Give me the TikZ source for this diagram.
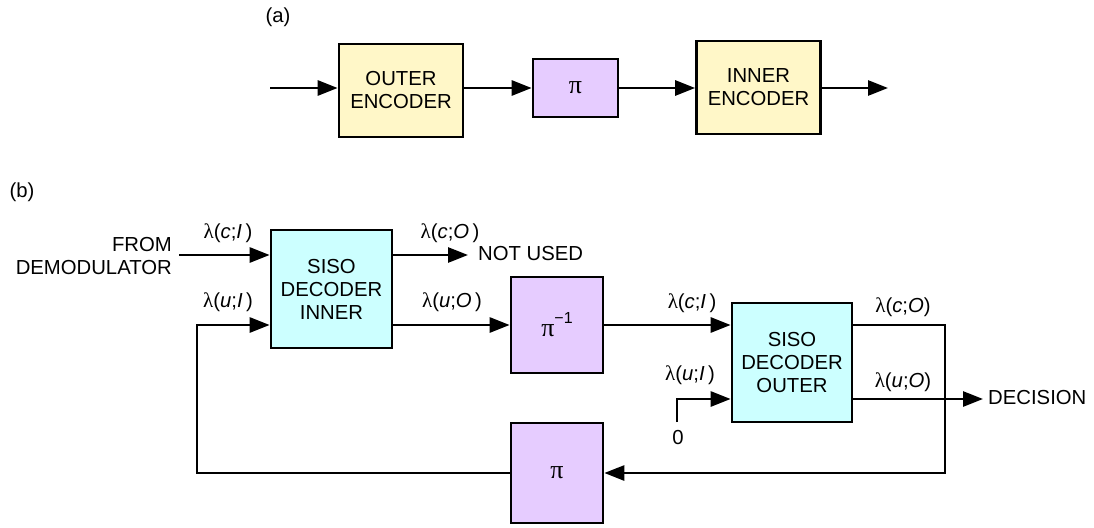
\documentclass[tikz,border=0pt]{standalone}
\usepackage{fontspec}
\setmainfont{Liberation Sans}
\newfontfamily\seriffont{Liberation Serif}
\usetikzlibrary{arrows.meta}
\definecolor{encyellow}{HTML}{FFF7C8}
\definecolor{pipurple}{HTML}{E6CCFF}
\definecolor{sisocyan}{HTML}{CCFFFF}
\newcommand{\lamlab}[3]{{\seriffont\fontsize{21}{21}\selectfont λ}(\textit{#1};\textit{#2}#3)}
\newcommand{\pisym}{{\seriffont\fontsize{26}{26}\selectfont π}}
\begin{document}
\begin{tikzpicture}[x=1pt,y=-1pt,
  every node/.style={font=\fontsize{20.3}{23}\selectfont},
  blk/.style={draw=black,line width=2.7pt,inner sep=0pt,align=center},
  encbox/.style={blk,fill=encyellow,minimum width=124pt,minimum height=93pt},
  pibox/.style={blk,fill=pipurple},
  sisobox/.style={blk,fill=sisocyan,minimum width=121pt,minimum height=118pt},
  arr/.style={line width=2.7pt,-{Triangle[length=20pt,width=15pt]}},
  lab/.style={inner sep=0pt}]
\useasboundingbox (0,0) rectangle (1094,527);

% ---------- (a)
\node[lab] (la) at (278,17) {(a)};
\node[encbox] (outerenc) at (401,90.5) {OUTER\\ENCODER};
\node[pibox,minimum width=85pt,minimum height=58pt] (pia) at (575.5,88) {\pisym};
\node[encbox] (innerenc) at (758.5,87.5) {INNER\\ENCODER};
\coordinate (ina) at (270,88);
\coordinate (outa) at (888,88);
\draw[arr] (ina) -- (ina -| outerenc.west);
\draw[arr] (ina -| outerenc.east) -- (pia.west);
\draw[arr] (pia.east) -- (pia.east -| innerenc.west);
\draw[arr] (outa -| innerenc.east) -- (outa);

% ---------- (b)
\node[lab] (lb) at (22,192) {(b)};
\node[sisobox] (sisoin) at (331.5,289) {SISO\\DECODER\\INNER};
\node[pibox,minimum width=92pt,minimum height=96pt] (pinv) at (557,325)
  {\pisym\raisebox{1.2ex}{\fontsize{16}{16}\selectfont −1}};
\node[pibox,minimum width=92pt,minimum height=100pt] (pib) at (557,473) {\pisym};
\node[sisobox,minimum width=120pt,minimum height=119pt] (sisoout) at (792,362.5) {SISO\\DECODER\\OUTER};

% inner decoder inputs
\node[lab,align=right,anchor=east] (demod) at (172,256) {FROM\\DEMODULATOR};
\coordinate (din) at (179,255);
\draw[arr] (din) -- (din -| sisoin.west);
\node[lab] (lci) at (228,233) {\lamlab{c}{I}{\,}};
\node[lab] (lui) at (228,302) {\lamlab{u}{I}{\,}};
\coordinate (fbl) at (197,325);
\draw[arr] (pib.west) -| (fbl) -- (fbl -| sisoin.west);

% inner decoder outputs
\coordinate (nu) at (468,255);
\draw[arr] (nu -| sisoin.east) -- (nu);
\node[lab,anchor=west] (notused) at (478,254) {NOT USED};
\node[lab] (lco) at (450,233) {\lamlab{c}{O}{\,}};
\node[lab] (luo) at (452,302) {\lamlab{u}{O}{\,}};
\draw[arr] (pinv.west -| sisoin.east) -- (pinv.west);

% outer decoder inputs
\draw[arr] (pinv.east) -- (pinv.east -| sisoout.west);
\node[lab] (lci2) at (692,303) {\lamlab{c}{I}{\,}};
\node[lab] (lui2) at (690,375) {\lamlab{u}{I}{\,}};
\node[lab] (zero) at (678,438) {0};
\coordinate (z1) at (677,422);
\coordinate (z2) at (677,399);
\draw[arr] (z1) -- (z2) -- (z2 -| sisoout.west);

% outer decoder outputs
\node[lab] (lco2) at (903,307) {\lamlab{c}{O}{}};
\node[lab] (luo2) at (903,382) {\lamlab{u}{O}{}};
\coordinate (fr) at (945,325);
\draw[arr] (fr -| sisoout.east) -- (fr) |- (pib.east);
\coordinate (dec) at (983,399);
\draw[arr] (dec -| sisoout.east) -- (dec);
\node[lab,anchor=west] (decision) at (988,398) {DECISION};
\end{tikzpicture}
\end{document}
